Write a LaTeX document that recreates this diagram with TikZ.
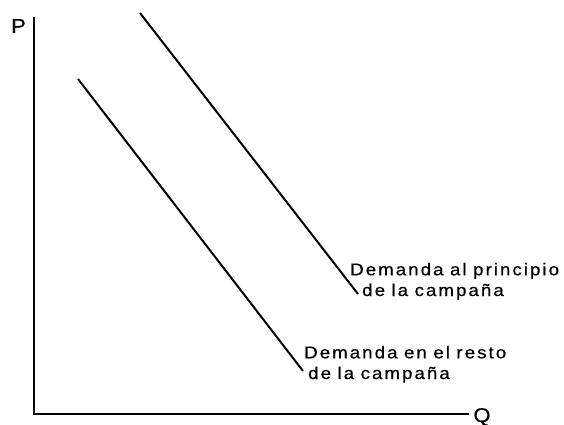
\documentclass[tikz,border=0pt]{standalone}
\usepackage{fontspec}
\setmainfont{Liberation Sans}[FakeStretch=1.1, LetterSpace=12, WordSpace=0.9, FakeBold=0.6]
\usetikzlibrary{calc,positioning}

\begin{document}
\begin{tikzpicture}[x=1pt, y=-1pt,
    axis/.style={line width=2pt},
    dem/.style={line width=2pt},
    axlbl/.style={font=\fontsize{20}{24}\selectfont, inner sep=0pt},
    lbl/.style={font=\fontsize{17}{20.7}\selectfont, align=left, anchor=base west, inner sep=0pt}]

    \useasboundingbox (0,0) rectangle (564,425);

    \coordinate (orig) at (34,414);
    \coordinate (ptop) at (34,17);
    \coordinate (qend) at (469,414);
    \node[axlbl] (p) at (18.5,26)  {P};
    \node[axlbl] (q) at (482,417) {Q};

    \draw[axis] (ptop) -- (orig) -- (qend);

    \coordinate (hi1) at (140,13);
    \coordinate (hi2) at (358,294);
    \coordinate (lo1) at (78,79);
    \coordinate (lo2) at (303,371);

    \draw[dem] (hi1) -- (hi2);
    \draw[dem] (lo1) -- (lo2);

    % base anchor sits on the last line
    \node[lbl] (hilbl) at (350,296) {Demanda al principio\\ \hspace*{12pt}de la campaña};
    \node[lbl] (lolbl) at (304,379) {Demanda en el resto\\ \hspace*{4pt}de la campaña};

\end{tikzpicture}
\end{document}
